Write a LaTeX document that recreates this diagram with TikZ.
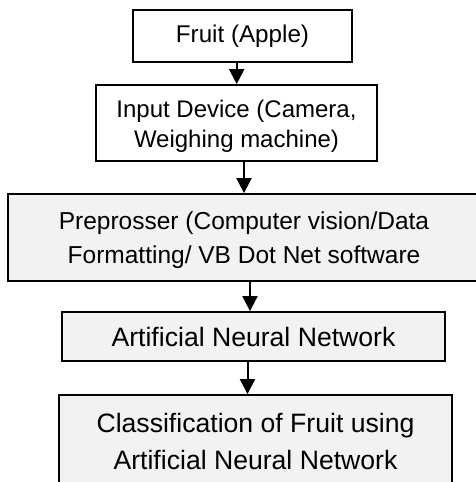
\documentclass[tikz,border=0pt]{standalone}
\usepackage{fontspec}
\setmainfont{Liberation Sans}
\usetikzlibrary{arrows.meta}
\definecolor{boxgray}{HTML}{F2F2F2}
\begin{document}
\begin{tikzpicture}[x=1pt,y=-1pt,
  box/.style={draw=black, line width=1.8pt, rectangle, inner sep=0pt, align=center},
  wbox/.style={box, fill=white},
  gbox/.style={box, fill=boxgray},
  txt/.style={inner sep=0pt, align=center},
  arr/.style={line width=2pt, -{Triangle[width=15pt,length=15pt]}}]
\useasboundingbox (0,0) rectangle (475,482);
\fill[white] (0,0) rectangle (475,482);
% boxes
\node[wbox, minimum width=219pt, minimum height=52pt,
      font=\fontsize{24.2}{30}\selectfont] (b1) at (242.5,36) {Fruit (Apple)};
\node[wbox, minimum width=281pt, minimum height=76pt] (b2) at (236.5,123) {};
\begin{scope}
  \clip (96,86) rectangle (377,151);
  \node[txt, font=\fontsize{24}{30}\selectfont] (t2) at (236.5,126)
    {Input Device (Camera,\\Weighing machine)};
\end{scope}
\node[gbox, minimum width=472pt, minimum height=87pt] (b3) at (244,237.5) {};
\node[txt, font=\fontsize{24.5}{34}\selectfont] (t3) at (244,240.6)
  {Preprosser (Computer vision/Data\\Formatting/ VB Dot Net software};
\node[gbox, minimum width=383pt, minimum height=49pt,
      font=\fontsize{26.6}{37}\selectfont] (b4) at (253.5,336.5) {Artificial Neural Network};
\node[gbox, minimum width=393pt, minimum height=93.5pt,
      font=\fontsize{26.6}{37}\selectfont] (b5) at (255.5,441.75)
  {Classification of Fruit using\\Artificial Neural Network};
% arrow x positions
\coordinate (x1) at (236.7,0);
\coordinate (x2) at (244,0);
\coordinate (x3) at (250,0);
\coordinate (x4) at (247.5,0);
\draw[arr] (b1.south -| x1) -- (b2.north -| x1);
\draw[arr] (b2.south -| x2) -- (b3.north -| x2);
\draw[arr] (b3.south -| x3) -- (b4.north -| x3);
\draw[arr] (b4.south -| x4) -- (b5.north -| x4);
\end{tikzpicture}
\end{document}
